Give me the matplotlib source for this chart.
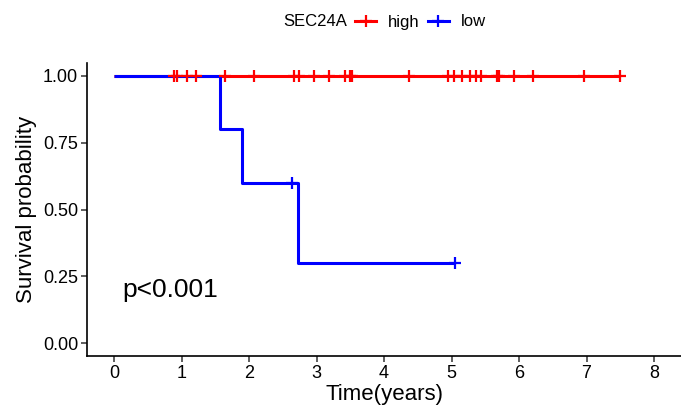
import matplotlib
matplotlib.use("Agg")
import matplotlib.pyplot as plt
from matplotlib.lines import Line2D
import numpy as np

plt.rcParams['font.family'] = ['Liberation Sans', 'DejaVu Sans']

# ---- data ----
groups = ["high", "low"]
colors = ["#FF0000", "#0000FF"]
high_event_times = []
high_censor_times = [0.89, 0.94, 1.08, 1.21, 1.65, 2.08, 2.66, 2.74, 2.96, 3.18,
                     3.42, 3.50, 3.53, 4.37, 4.95, 5.04, 5.15, 5.28, 5.37, 5.43,
                     5.67, 5.70, 5.93, 6.20, 6.96, 7.49]
low_event_times = [1.57, 1.89, 2.73]
low_censor_times = [2.63, 5.05]
x_ticks = [0, 1, 2, 3, 4, 5, 6, 7, 8]
y_ticks = [0.00, 0.25, 0.50, 0.75, 1.00]
pval_text = "p<0.001"
legend_title = "SEC24A"


def km(events, censors):
    times = sorted(set(events) | set(censors))
    n = len(events) + len(censors)
    s = 1.0
    xs, ys = [0.0], [1.0]
    cx, cy = [], []
    for t in times:
        d = events.count(t)
        c = censors.count(t)
        if d:
            s *= (1 - d / n)
        xs.append(t)
        ys.append(s)
        if c:
            cx.append(t)
            cy.append(s)
        n -= d + c
    return xs, ys, cx, cy


fig = plt.figure(figsize=(6.81, 4.11), dpi=100)
ax = fig.add_axes([0.1278, 0.1328, 1.0 - 0.1278, 0.8477 - 0.1328])

curves = [km(high_event_times, high_censor_times), km(low_event_times, low_censor_times)]
for (xs, ys, cx, cy), col in zip(curves, colors):
    ax.step(xs, ys, where="post", color=col, lw=2.2, solid_capstyle="butt")
for (xs, ys, cx, cy), col in zip(curves, colors):
    ax.plot(cx, cy, linestyle="none", marker="+", color=col, markersize=8, mew=1.6)

ax.set_xlim(-0.4, 8.4)
ax.set_ylim(-0.05, 1.05)
ax.set_xticks(x_ticks)
ax.set_yticks(y_ticks)
ax.set_yticklabels([f"{v:.2f}" for v in y_ticks])
ax.tick_params(axis="both", labelsize=13, length=4, width=1.1, color="#333333",
               labelcolor="black", pad=2.5)
for sp in ["top", "right"]:
    ax.spines[sp].set_visible(False)
for sp in ["left", "bottom"]:
    ax.spines[sp].set_linewidth(1.2)
    ax.spines[sp].set_color("black")

ax.set_xlabel("Time(years)", fontsize=16, labelpad=1)
ax.set_ylabel("Survival probability", fontsize=16, labelpad=4)

ax.text(0.13, 0.2, pval_text, fontsize=19, ha="left", va="center")

# legend at top
fig.text(283 / 681, 1 - 22 / 411, legend_title, fontsize=12, ha="left", va="center")
handles = [Line2D([], [], color=c, lw=2.2, marker="+", markersize=8, mew=1.6) for c in colors]
leg = fig.legend(handles, groups, loc="center left", bbox_to_anchor=(355 / 681, 1 - 22 / 411),
                 ncol=2, frameon=False, fontsize=12, handlelength=1.26, handletextpad=0.72,
                 columnspacing=0.5, borderaxespad=0, borderpad=0)

fig.savefig("out.png", dpi=100)
